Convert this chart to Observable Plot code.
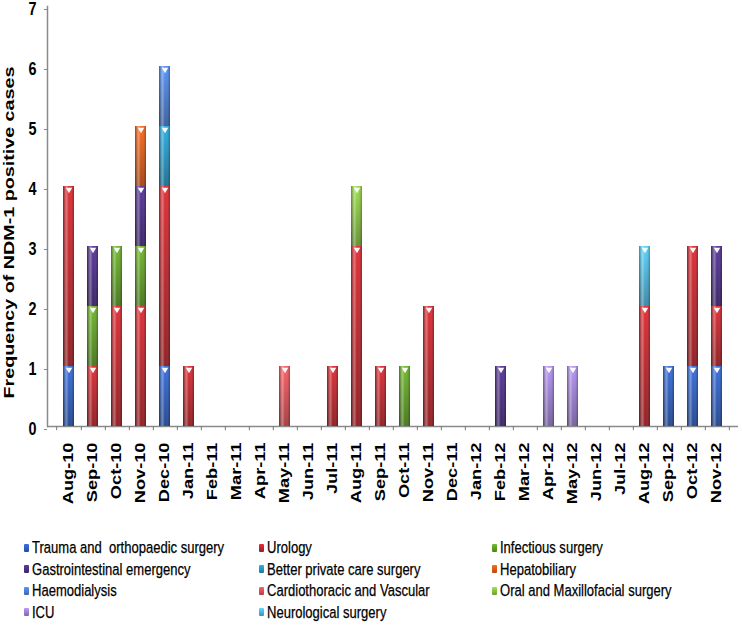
<!DOCTYPE html>
<html><head><meta charset="utf-8">
<script src="https://cdn.jsdelivr.net/npm/d3@7"></script>
<script src="https://cdn.jsdelivr.net/npm/@observablehq/plot@0.6"></script>
<style>
body{margin:0;background:#fff;}
#chart{width:742px;height:627px;position:relative;overflow:hidden;background:#fff;}
#chart svg{position:absolute;left:0;top:0;}
.legend{position:absolute;left:24px;top:537px;display:grid;grid-template-columns:235px 233px 240px;grid-auto-rows:21.5px;font-family:"Liberation Sans",Arial,sans-serif;font-size:16.3px;color:#000;}
.item{display:flex;align-items:center;white-space:pre;}
.item span.t{display:inline-block;transform:scaleX(0.8);transform-origin:0 50%;-webkit-text-stroke:0.25px #000;}
.sw{width:5px;height:8px;margin-right:3px;border-radius:1px;flex:none;}
</style></head><body><div id="chart"></div>
<script>
const months = ["Aug-10","Sep-10","Oct-10","Nov-10","Dec-10","Jan-11","Feb-11","Mar-11","Apr-11","May-11","Jun-11","Jul-11","Aug-11","Sep-11","Oct-11","Nov-11","Dec-11","Jan-12","Feb-12","Mar-12","Apr-12","May-12","Jun-12","Jul-12","Aug-12","Sep-12","Oct-12","Nov-12"];
const seriesNames = ["Trauma and  orthopaedic surgery","Urology","Infectious surgery","Gastrointestinal emergency","Better private care surgery","Hepatobiliary","Haemodialysis","Cardiothoracic and Vascular","Oral and Maxillofacial surgery","ICU","Neurological surgery"];
//                 A  S  O  N  D  J  F  M  A  M  J  J  A  S  O  N  D  J  F  M  A  M  J  J  A  S  O  N
const trauma =    [1, 0, 0, 0, 1, 0, 0, 0, 0, 0, 0, 0, 0, 0, 0, 0, 0, 0, 0, 0, 0, 0, 0, 0, 0, 1, 1, 1];
const urology =   [3, 1, 2, 2, 3, 1, 0, 0, 0, 0, 0, 1, 3, 1, 0, 2, 0, 0, 0, 0, 0, 0, 0, 0, 2, 0, 2, 1];
const infectious =[0, 1, 1, 1, 0, 0, 0, 0, 0, 0, 0, 0, 0, 0, 1, 0, 0, 0, 0, 0, 0, 0, 0, 0, 0, 0, 0, 0];
const gastro =    [0, 1, 0, 1, 0, 0, 0, 0, 0, 0, 0, 0, 0, 0, 0, 0, 0, 0, 1, 0, 0, 0, 0, 0, 0, 0, 0, 1];
const privateCare=[0, 0, 0, 0, 1, 0, 0, 0, 0, 0, 0, 0, 0, 0, 0, 0, 0, 0, 0, 0, 0, 0, 0, 0, 0, 0, 0, 0];
const hepato =    [0, 0, 0, 1, 0, 0, 0, 0, 0, 0, 0, 0, 0, 0, 0, 0, 0, 0, 0, 0, 0, 0, 0, 0, 0, 0, 0, 0];
const haemo =     [0, 0, 0, 0, 1, 0, 0, 0, 0, 0, 0, 0, 0, 0, 0, 0, 0, 0, 0, 0, 0, 0, 0, 0, 0, 0, 0, 0];
const cardio =    [0, 0, 0, 0, 0, 0, 0, 0, 0, 1, 0, 0, 0, 0, 0, 0, 0, 0, 0, 0, 0, 0, 0, 0, 0, 0, 0, 0];
const oral =      [0, 0, 0, 0, 0, 0, 0, 0, 0, 0, 0, 0, 1, 0, 0, 0, 0, 0, 0, 0, 0, 0, 0, 0, 0, 0, 0, 0];
const icu =       [0, 0, 0, 0, 0, 0, 0, 0, 0, 0, 0, 0, 0, 0, 0, 0, 0, 0, 0, 0, 1, 1, 0, 0, 0, 0, 0, 0];
const neuro =     [0, 0, 0, 0, 0, 0, 0, 0, 0, 0, 0, 0, 0, 0, 0, 0, 0, 0, 0, 0, 0, 0, 0, 0, 1, 0, 0, 0];
const seriesValues = [trauma, urology, infectious, gastro, privateCare, hepato, haemo, cardio, oral, icu, neuro];
const colors = ["#2f5fbf","#c0262c","#5f9e25","#4d2f85","#2596c4","#e05a17","#4a7fd4","#dc5055","#86c040","#9d80d2","#4cb6e2"];
const yTicks = [0,1,2,3,4,5,6,7];
const yTitle = "Frequency of NDM-1 positive cases";

const data = [];
seriesNames.forEach((s, i) => seriesValues[i].forEach((v, j) => {
  if (v > 0) data.push({month: months[j], series: s, value: v});
}));

const half = (742 - 47 - 4) / months.length / 2;
const tickFont = '"Liberation Sans", Arial, sans-serif';

const svg = Plot.plot({
  width: 742, height: 530,
  marginLeft: 47, marginRight: 4, marginTop: 6, marginBottom: 104,
  style: {background: "white", color: "#000", overflow: "visible"},
  x: {domain: months, paddingInner: 0.53, paddingOuter: 0.265, label: null},
  y: {domain: [0, 7], label: null},
  color: {domain: seriesNames, range: seriesNames.map((_, i) => `url(#v${i})`)},
  marks: [
    Plot.ruleY([0], {stroke: "#8a8a8a", strokeWidth: 1.5}),
    Plot.ruleX(months, {x: d => d, y1: 0, y2: -0.07, dx: half, stroke: "#777"}),
    Plot.ruleX([months[0]], {x: d => d, y1: 0, y2: -0.07, dx: -half, stroke: "#777"}),
    Plot.frame({anchor: "left", stroke: "#8a8a8a", strokeWidth: 1.5}),
    Plot.barY(data, {x: "month", y: "value", fill: "series", z: "series"}),
    Plot.barY(data, {x: "month", y: "value", z: "series", fill: "url(#shine)"}),
    Plot.dot(data, Plot.stackY2({x: "month", y: "value", z: "series", symbol: "triangle", rotate: 180, r: 2.4, fill: "white", fillOpacity: 0.95, stroke: "none", dy: 3})),
    Plot.axisY({ticks: yTicks, tickFormat: "d", tickSize: 3, tickPadding: 8, dy: 3, fontSize: 18, fontWeight: "bold", fontFamily: tickFont, label: null, stroke: "#888"}),
    Plot.axisX({tickSize: 0, tickRotate: -90, tickPadding: 16, fontSize: 13.8, fontWeight: "bold", fontFamily: tickFont, label: null}),
    Plot.text([yTitle], {text: d => d, frameAnchor: "left", textAnchor: "middle", dx: -38, dy: 16, rotate: -90, fontSize: 14.5, fontWeight: "bold", fontFamily: tickFont, fill: "#000", className: "ytitle"})
  ]
});

// gradient definitions for the glossy look
const defs = d3.select(svg).insert("defs", ":first-child");
colors.forEach((c, i) => {
  const g = defs.append("linearGradient").attr("id", "v" + i).attr("x1", 0).attr("y1", 0).attr("x2", 0).attr("y2", 1);
  g.append("stop").attr("offset", "0%").attr("stop-color", d3.color(c).brighter(0.45).formatHex());
  g.append("stop").attr("offset", "100%").attr("stop-color", d3.color(c).darker(0.8).formatHex());
});
const sh = defs.append("linearGradient").attr("id", "shine").attr("x1", 0).attr("y1", 0).attr("x2", 1).attr("y2", 0);
[["0%", "#000", 0.35], ["30%", "#fff", 0.35], ["55%", "#fff", 0], ["100%", "#000", 0.3]].forEach(([o, c, op]) =>
  sh.append("stop").attr("offset", o).attr("stop-color", c).attr("stop-opacity", op));

// condensed look of the original: stretch/squeeze texts
function scaleTexts(sel, sx, sy) {
  d3.select(svg).selectAll(sel).each(function() {
    const t = this.getAttribute("transform") || "";
    this.setAttribute("transform", t + ` scale(${sx},${sy})`);
  });
}
scaleTexts('g[aria-label="x-axis tick label"] text', 1.32, 1);
scaleTexts('g[aria-label="y-axis tick label"] text', 0.8, 1);
scaleTexts('.ytitle text', 1.36, 1);

const chart = document.getElementById("chart");
chart.appendChild(svg);
const legend = document.createElement("div");
legend.className = "legend";
seriesNames.forEach((s, i) => {
  const it = document.createElement("div");
  it.className = "item";
  const sw = document.createElement("span");
  sw.className = "sw";
  const c = d3.color(colors[i]);
  sw.style.background = `linear-gradient(to bottom, ${c.brighter(0.5).formatHex()}, ${c.darker(0.6).formatHex()})`;
  it.appendChild(sw);
  const tx = document.createElement("span");
  tx.className = "t";
  tx.textContent = s;
  it.appendChild(tx);
  legend.appendChild(it);
});
chart.appendChild(legend);
</script></body></html>
